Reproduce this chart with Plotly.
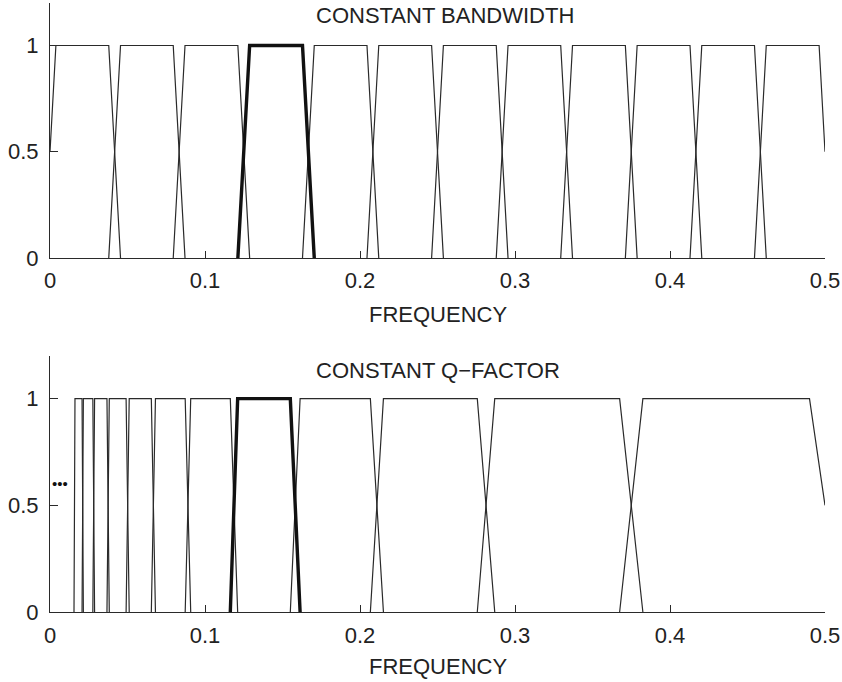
import plotly.graph_objects as go

# ---- data ----
bw_edges = [0.0, 0.0417, 0.0833, 0.125, 0.1667, 0.2083, 0.25,
            0.2917, 0.3333, 0.375, 0.4167, 0.4583, 0.5]
bw_halfwidth = 0.0038          # half width of each transition band
bw_highlight = 3               # filter drawn bold

q_edges = [0.0158, 0.0211, 0.0282, 0.0375, 0.0501, 0.0667, 0.0890,
           0.1187, 0.1582, 0.2109, 0.2813, 0.375, 0.5]
q_halfwidth_ratio = 0.02       # transition half width relative to edge frequency
q_highlight = 7

x_ticks = [0, 0.1, 0.2, 0.3, 0.4, 0.5]
x_ticktext = ["0", "0.1", "0.2", "0.3", "0.4", "0.5"]
y_ticks = [0, 0.5, 1]
y_ticktext = ["0", "0.5", "1"]

XMIN, XMAX = 0.0, 0.5


def clip_poly(pts):
    """clip a polyline to XMIN..XMAX with linear interpolation"""
    out = []
    for i in range(len(pts)):
        x, y = pts[i]
        if XMIN <= x <= XMAX:
            if i > 0 and pts[i - 1][0] < XMIN:
                x0, y0 = pts[i - 1]
                out.append((XMIN, y0 + (y - y0) * (XMIN - x0) / (x - x0)))
            out.append((x, y))
        else:
            if i > 0 and XMIN <= pts[i - 1][0] <= XMAX and x > XMAX:
                x0, y0 = pts[i - 1]
                out.append((XMAX, y0 + (y - y0) * (XMAX - x0) / (x - x0)))
    return out


def trapezoid(lo, hi, dlo, dhi):
    return clip_poly([(lo - dlo, 0), (lo + dlo, 1), (hi - dhi, 1), (hi + dhi, 0)])


def build(edges, hw_fn, hl):
    tx, ty, hx, hy = [], [], [], []
    for k in range(len(edges) - 1):
        pts = trapezoid(edges[k], edges[k + 1], hw_fn(edges[k]), hw_fn(edges[k + 1]))
        if k == hl:
            hx += [p[0] for p in pts]
            hy += [p[1] for p in pts]
        else:
            tx += [p[0] for p in pts] + [None]
            ty += [p[1] for p in pts] + [None]
    return tx, ty, hx, hy


LINE = "#2a2a2a"
FONT = dict(family="Liberation Sans, Arial, Helvetica, sans-serif", size=22, color="#222222")

fig = go.Figure()

t1x, t1y, h1x, h1y = build(bw_edges, lambda e: bw_halfwidth, bw_highlight)
t2x, t2y, h2x, h2y = build(q_edges, lambda e: q_halfwidth_ratio * e, q_highlight)

fig.add_trace(go.Scatter(x=t1x, y=t1y, mode="lines", line=dict(color=LINE, width=1.2),
                         xaxis="x", yaxis="y", showlegend=False, hoverinfo="skip"))
fig.add_trace(go.Scatter(x=h1x, y=h1y, mode="lines", line=dict(color="#111111", width=3.4),
                         xaxis="x", yaxis="y", showlegend=False, hoverinfo="skip"))
fig.add_trace(go.Scatter(x=t2x, y=t2y, mode="lines", line=dict(color=LINE, width=1.2),
                         xaxis="x2", yaxis="y2", showlegend=False, hoverinfo="skip"))
fig.add_trace(go.Scatter(x=h2x, y=h2y, mode="lines", line=dict(color="#111111", width=3.4),
                         xaxis="x2", yaxis="y2", showlegend=False, hoverinfo="skip"))

xa = dict(range=[XMIN, XMAX], tickvals=x_ticks, ticktext=x_ticktext, showline=True,
          linecolor=LINE, linewidth=1.2, ticks="inside", ticklen=7, tickwidth=1.2,
          tickcolor=LINE, showgrid=False, zeroline=False, tickfont=FONT,
          ticklabelstandoff=3, fixedrange=True)
ya = dict(range=[0, 1.2], tickvals=y_ticks, ticktext=y_ticktext, showline=True,
          linecolor=LINE, linewidth=1.2, ticks="inside", ticklen=8, tickwidth=1.2,
          tickcolor=LINE, showgrid=False, zeroline=False, tickfont=FONT,
          ticklabelstandoff=6, fixedrange=True)

fig.update_layout(
    width=842, height=682, template="none",
    margin=dict(l=50, r=17, t=3, b=70),
    paper_bgcolor="white", plot_bgcolor="white",
    font=FONT,
    xaxis=dict(xa, anchor="y", domain=[0, 1]),
    yaxis=dict(ya, anchor="x", domain=[0.5813, 1]),
    xaxis2=dict(xa, anchor="y2", domain=[0, 1]),
    yaxis2=dict(ya, anchor="x2", domain=[0, 0.4204]),
    annotations=[
        dict(text="CONSTANT BANDWIDTH", x=0.51, y=0.980, xref="paper", yref="paper",
             showarrow=False, font=FONT, xanchor="center", yanchor="middle"),
        dict(text="FREQUENCY", x=0.5, y=0.488, xref="paper", yref="paper",
             showarrow=False, font=FONT, xanchor="center", yanchor="middle"),
        dict(text="CONSTANT Q\u2212FACTOR", x=0.5, y=0.397, xref="paper", yref="paper",
             showarrow=False, font=FONT, xanchor="center", yanchor="middle"),
        dict(text="FREQUENCY", x=0.5, y=-0.0903, xref="paper", yref="paper",
             showarrow=False, font=FONT, xanchor="center", yanchor="middle"),
        dict(text="\u2022\u2022\u2022", x=0.0062, y=0.6, xref="x2", yref="y2",
             showarrow=False, font=dict(family=FONT["family"], size=15, color="#111111"),
             xanchor="center", yanchor="middle"),
    ],
)

fig.write_html("out.html")
